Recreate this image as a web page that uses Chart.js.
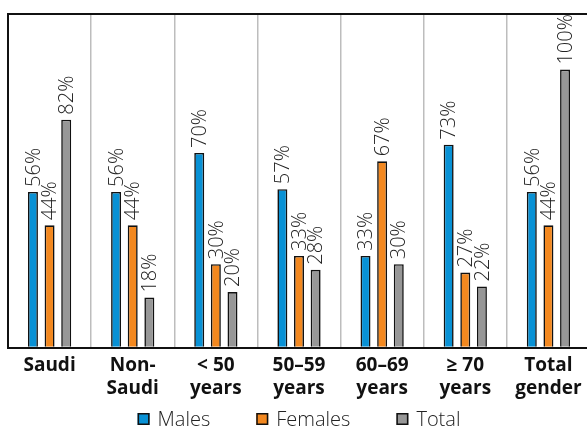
<!DOCTYPE html>
<html>
<head>
<meta charset="utf-8">
<script src="https://cdn.jsdelivr.net/npm/chart.js@4/dist/chart.umd.min.js"></script>
<style>
    html, body { margin: 0; padding: 0; background: #fff; overflow: hidden; }
    #wrap { width: 592px; height: 428px; position: relative; }
</style>
</head>
<body>
<div id="wrap"><canvas id="chart"></canvas></div>
<script>
const categories = [
    ["Saudi"], ["Non-", "Saudi"], ["< 50", "years"], ["50–59", "years"],
    ["60–69", "years"], ["≥ 70", "years"], ["Total", "gender"]
];
const males = [56, 56, 70, 57, 33, 73, 56];
const females = [44, 44, 30, 33, 67, 27, 44];
const total = [82, 18, 20, 28, 30, 22, 100];

const seriesNames = ["Males", "Females", "Total"];
const seriesColors = ["#0891d5", "#f3881f", "#979797"];

const LIGHT_FONT = "'Open Sans', 'DejaVu Sans', sans-serif";

// rotated percentage labels above each bar
const valueLabels = {
    id: "valueLabels",
    afterDatasetsDraw(chart) {
        const ctx = chart.ctx;
        ctx.save();
        ctx.fillStyle = "#222";
        ctx.font = "300 20px " + LIGHT_FONT;
        ctx.textAlign = "left";
        ctx.textBaseline = "middle";
        chart.data.datasets.forEach((ds, di) => {
            chart.getDatasetMeta(di).data.forEach((bar, i) => {
                ctx.save();
                ctx.translate(bar.x, bar.y - 5);
                ctx.rotate(-Math.PI / 2);
                ctx.fillText(ds.data[i] + "%", 0, 1);
                ctx.restore();
            });
        });
        ctx.restore();
    }
};

// simple legend row under the axis labels
const bottomLegend = {
    id: "bottomLegend",
    afterDraw(chart) {
        const ctx = chart.ctx;
        const box = 12, gap = 8, spacing = 46, y = 419;
        ctx.save();
        ctx.font = "300 20px " + LIGHT_FONT;
        ctx.textBaseline = "middle";
        ctx.textAlign = "left";
        const widths = chart.data.datasets.map(ds => box + gap + ctx.measureText(ds.label).width);
        const full = widths.reduce((a, b) => a + b, 0) + spacing * (widths.length - 1);
        let x = (chart.chartArea.left + chart.chartArea.right) / 2 - full / 2;
        chart.data.datasets.forEach((ds, i) => {
            ctx.fillStyle = ds.backgroundColor;
            ctx.fillRect(x, y - box / 2, box, box);
            ctx.lineWidth = 1.5;
            ctx.strokeStyle = "#111";
            ctx.strokeRect(x + 0.75, y - box / 2 + 0.75, box - 1.5, box - 1.5);
            ctx.fillStyle = "#222";
            ctx.fillText(ds.label, x + box + gap, y + 1);
            x += widths[i] + spacing;
        });
        ctx.restore();
    }
};

const seriesData = [males, females, total];

new Chart(document.getElementById("chart"), {
    type: "bar",
    data: {
        labels: categories,
        datasets: seriesData.map((d, i) => ({
            label: seriesNames[i],
            data: d,
            backgroundColor: seriesColors[i],
            borderColor: "#111",
            borderWidth: 1.6,
            borderSkipped: "bottom",
            categoryPercentage: 0.6,
            barPercentage: 0.6,
        })),
    },
    options: {
        responsive: true,
        maintainAspectRatio: false,
        animation: false,
        layout: { padding: { left: 8, top: 14, right: 2, bottom: 22 } },
        plugins: {
            legend: { display: false },
            tooltip: { enabled: false },
        },
        scales: {
            x: {
                offset: true,
                grid: {
                    offset: true,
                    drawTicks: false,
                    color: (c) => c.index === 0 ? "rgba(0,0,0,0)" : "#bdbdbd",
                    lineWidth: 1.5,
                },
                border: { color: "#111", width: 2 },
                ticks: {
                    color: "#111",
                    padding: 6,
                    maxRotation: 0,
                    autoSkip: false,
                    font: { family: "'Open Sans', sans-serif", size: 19, weight: "bold", lineHeight: 1.22 },
                },
            },
            y: {
                min: 0,
                max: 120,
                ticks: { display: false, stepSize: 120 },
                grid: {
                    drawTicks: false,
                    color: (c) => c.tick && c.tick.value === 120 ? "#111" : "rgba(0,0,0,0)",
                    lineWidth: 2,
                },
                border: { color: "#111", width: 2 },
            },
        },
    },
    plugins: [valueLabels, bottomLegend],
});
</script>
</body>
</html>
